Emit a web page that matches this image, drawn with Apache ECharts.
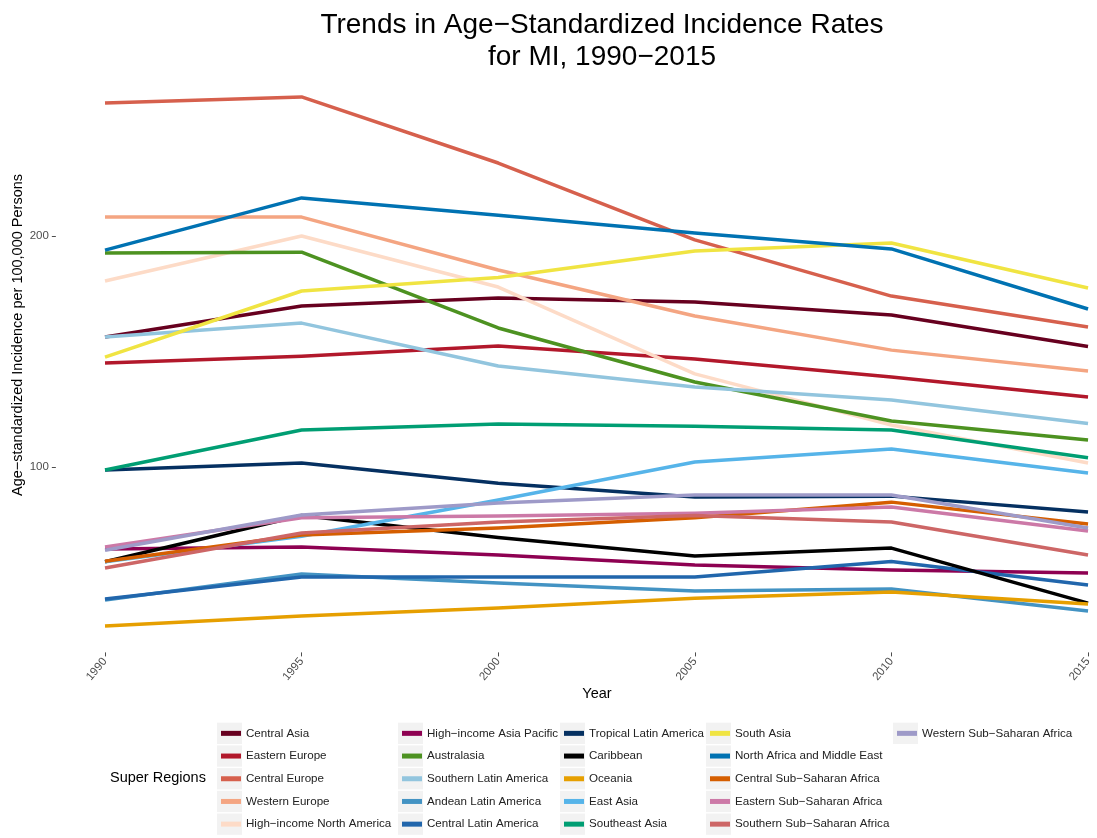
<!DOCTYPE html>

<head>
    <meta charset="utf-8">
    <title>MI incidence trends</title>
    <script src="https://cdn.jsdelivr.net/npm/echarts@6.0.0/dist/echarts.min.js"></script>
    <style>
        html, body { margin: 0; padding: 0; background: #fff; }
        #chart { width: 1097px; height: 838px; }
    </style>
</head>

<body>
    <div id="chart"></div>
    <script>
        // years on the x axis
        var years = [1990, 1995, 2000, 2005, 2010, 2015];
        var yTicks = [100, 200];

        // age-standardized incidence per 100,000, one array per super region
        var centralAsia = [156.3, 169.7, 173.2, 171.4, 165.8, 152.2];
        var easternEurope = [145.0, 148.0, 152.4, 146.8, 139.0, 130.3];
        var centralEurope = [257.6, 260.2, 231.6, 198.3, 174.0, 160.6];
        var westernEurope = [208.2, 208.2, 185.3, 165.4, 150.6, 141.6];
        var hiNorthAmerica = [180.5, 200.0, 177.9, 140.3, 118.2, 101.7];
        var hiAsiaPacific = [64.5, 65.4, 61.9, 57.6, 55.4, 54.1];
        var australasia = [192.6, 193.0, 160.2, 136.8, 119.9, 111.7];
        var southernLatAm = [156.3, 162.3, 143.7, 134.6, 129.0, 118.8];
        var andeanLatAm = [42.4, 53.7, 49.8, 46.3, 47.2, 37.7];
        var centralLatAm = [42.9, 52.4, 52.4, 52.4, 59.1, 48.9];
        var tropicalLatAm = [98.7, 101.7, 93.0, 87.0, 87.4, 80.5];
        var caribbean = [59.0, 79.0, 69.5, 61.5, 64.9, 41.1];
        var oceania = [31.2, 35.5, 39.0, 43.2, 45.9, 40.7];
        var eastAsia = [59.0, 70.0, 85.7, 102.2, 107.8, 97.4];
        var southeastAsia = [98.7, 116.0, 118.6, 117.7, 116.0, 104.0];
        var southAsia = [147.6, 176.2, 182.0, 193.5, 197.0, 177.5];
        var northAfricaME = [193.9, 216.5, 209.0, 201.3, 194.4, 168.4];
        var centralSSA = [59.2, 70.6, 73.6, 78.0, 84.8, 75.3];
        var easternSSA = [65.4, 78.0, 78.8, 80.0, 82.7, 72.3];
        var southernSSA = [56.3, 71.4, 76.2, 79.0, 76.2, 61.9];
        var westernSSA = [64.0, 79.2, 84.4, 87.9, 87.9, 73.6];

        var regions = [
            'Central Asia', 'Eastern Europe', 'Central Europe', 'Western Europe', 'High\u2212income North America',
            'High\u2212income Asia Pacific', 'Australasia', 'Southern Latin America', 'Andean Latin America', 'Central Latin America',
            'Tropical Latin America', 'Caribbean', 'Oceania', 'East Asia', 'Southeast Asia',
            'South Asia', 'North Africa and Middle East', 'Central Sub\u2212Saharan Africa', 'Eastern Sub\u2212Saharan Africa', 'Southern Sub\u2212Saharan Africa',
            'Western Sub\u2212Saharan Africa'
        ];
        var values = [
            centralAsia, easternEurope, centralEurope, westernEurope, hiNorthAmerica,
            hiAsiaPacific, australasia, southernLatAm, andeanLatAm, centralLatAm,
            tropicalLatAm, caribbean, oceania, eastAsia, southeastAsia,
            southAsia, northAfricaME, centralSSA, easternSSA, southernSSA,
            westernSSA
        ];
        var colors = [
            '#67001f', '#b2182b', '#d6604d', '#f4a582', '#fddbc7',
            '#8e0152', '#4d9221', '#92c5de', '#4393c3', '#2166ac',
            '#053061', '#000000', '#e69f00', '#56b4e9', '#009e73',
            '#f0e442', '#0072b2', '#d55e00', '#cc79a7', '#cd6666',
            '#9e9ac8'
        ];

        var fontFamily = '"Liberation Sans", Arial, sans-serif';

        // legend layout: five columns of five rows
        var legendKeyLeft = [217, 398, 560, 706, 893];
        var legendTop = 722;
        var legendRow = 22.7;

        var series = regions.map(function(name, i) {
            return {
                name: name,
                type: 'line',
                showSymbol: false,
                symbol: 'none',
                color: colors[i],
                lineStyle: { width: 3.5, color: colors[i], cap: 'butt', join: 'round' },
                emphasis: { disabled: true },
                data: years.map(function(y, j) { return [y, values[i][j]]; })
            };
        });

        var legends = legendKeyLeft.map(function(left, c) {
            return {
                orient: 'vertical',
                left: left + 4,
                top: legendTop,
                height: 5 * legendRow + 4,
                padding: 0,
                itemWidth: 20,
                itemHeight: 5,
                itemGap: 0,
                icon: 'rect',
                selectedMode: false,
                textStyle: { fontSize: 11.6, color: '#222', fontFamily: fontFamily, lineHeight: legendRow },
                data: regions.slice(c * 5, c * 5 + 5)
            };
        });

        var keyBoxes = [];
        regions.forEach(function(name, i) {
            var c = Math.floor(i / 5), r = i % 5;
            keyBoxes.push({
                type: 'rect',
                z: -10,
                shape: { x: legendKeyLeft[c], y: legendTop + r * legendRow + 0.7, width: 25, height: legendRow - 1.4 },
                style: { fill: '#f2f2f2' }
            });
        });

        var chart = echarts.init(document.getElementById('chart'), null, { renderer: 'canvas' });
        chart.setOption({
            animation: false,
            backgroundColor: '#ffffff',
            title: {
                text: 'Trends in Age\u2212Standardized Incidence Rates\nfor MI, 1990\u22122015',
                left: 597,
                top: 4,
                textAlign: 'center',
                textStyle: { fontSize: 28, fontWeight: 'normal', color: '#000', fontFamily: fontFamily, lineHeight: 32 }
            },
            legend: legends,
            grid: { left: 55.85, right: 1.1, top: 70.5, bottom: 185.6, containLabel: false },
            xAxis: {
                type: 'value',
                min: 1988.75,
                max: 2015.2,
                splitLine: { show: false },
                axisLine: { show: false },
                axisTick: { show: true, length: 4, customValues: years, lineStyle: { color: '#4d4d4d' } },
                axisLabel: {
                    customValues: years,
                    rotate: 50,
                    margin: 7,
                    fontSize: 11.5,
                    color: '#4d4d4d',
                    fontFamily: fontFamily,
                    formatter: function(v) { return String(v); }
                }
            },
            yAxis: {
                type: 'value',
                min: 19.75,
                max: 271.65,
                splitLine: { show: false },
                axisLine: { show: false },
                axisTick: { show: true, length: 4, customValues: yTicks, lineStyle: { color: '#4d4d4d' } },
                axisLabel: {
                    customValues: yTicks,
                    margin: 7,
                    fontSize: 11.5,
                    color: '#4d4d4d',
                    fontFamily: fontFamily
                }
            },
            graphic: keyBoxes.concat([{
                type: 'text',
                x: 18,
                y: 335,
                rotation: Math.PI / 2,
                style: {
                    text: 'Age\u2212standardized Incidence per 100,000 Persons',
                    fontSize: 14.5,
                    fontFamily: fontFamily,
                    fill: '#000',
                    align: 'center',
                    verticalAlign: 'middle'
                }
            }, {
                type: 'text',
                x: 597,
                y: 694,
                style: {
                    text: 'Year',
                    fontSize: 14.5,
                    fontFamily: fontFamily,
                    fill: '#000',
                    align: 'center',
                    verticalAlign: 'middle'
                }
            }, {
                type: 'text',
                x: 110,
                y: 778,
                style: {
                    text: 'Super Regions',
                    fontSize: 14.5,
                    fontFamily: fontFamily,
                    fill: '#000',
                    align: 'left',
                    verticalAlign: 'middle'
                }
            }]),
            series: series
        });
    </script>
</body>
